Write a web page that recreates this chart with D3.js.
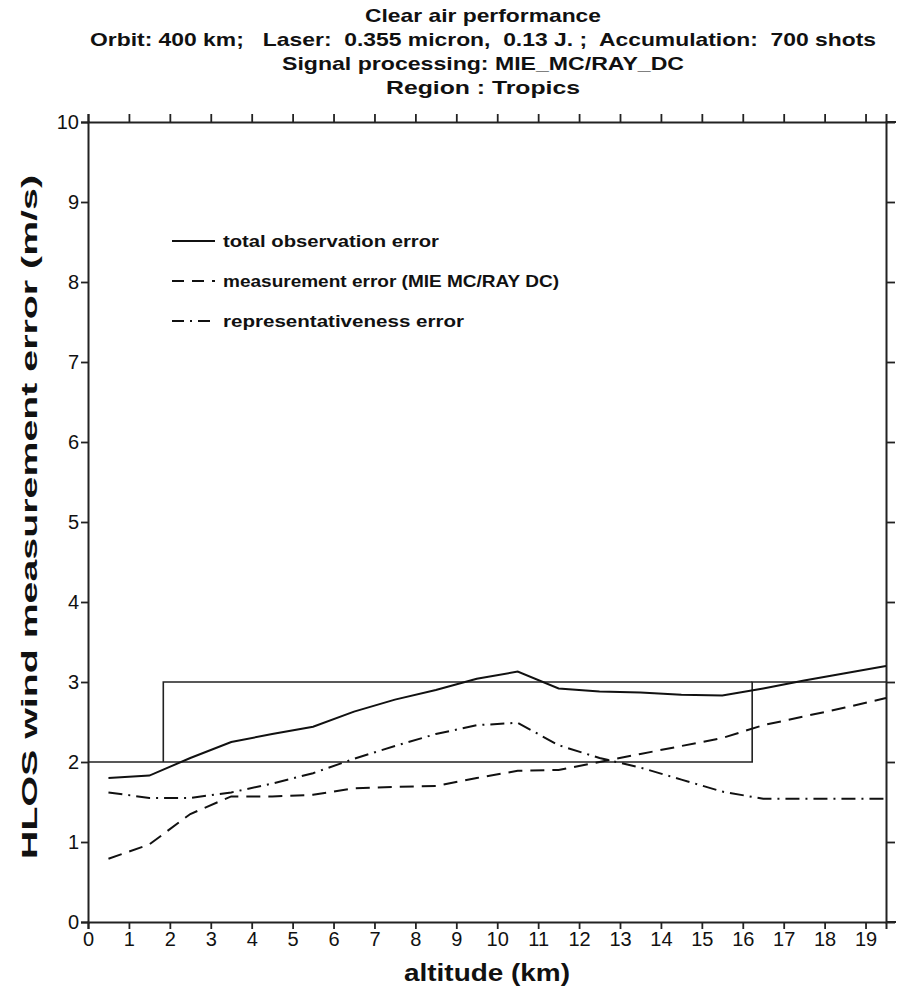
<!DOCTYPE html>
<html>
<head>
<meta charset="utf-8">
<script src="https://cdn.jsdelivr.net/npm/d3@7"></script>
<style>
  html, body { margin: 0; padding: 0; background: #fff; }
  svg { display: block; }
  text { font-family: "Liberation Sans", Arial, Helvetica, sans-serif; fill: #111; }
  .tick-label-axis text { font-size: 20px; }
</style>
</head>
<body>
<svg id="chart" width="910" height="991"></svg>
<script>
// Altitude grid (km) at which the errors are evaluated
const altitudes = [0.5, 1.5, 2.5, 3.5, 4.5, 5.5, 6.5, 7.5, 8.5, 9.5,
                   10.5, 11.5, 12.5, 13.5, 14.5, 15.5, 16.5, 17.5, 18.5, 19.5];

// HLOS wind errors (m/s)
const totalError = [1.80, 1.83, 2.05, 2.25, 2.35, 2.44, 2.63, 2.78, 2.90, 3.04,
                    3.13, 2.92, 2.88, 2.87, 2.84, 2.83, 2.92, 3.02, 3.11, 3.20];
const measurementError = [0.79, 0.97, 1.35, 1.57, 1.57, 1.59, 1.67, 1.69, 1.70, 1.80,
                          1.89, 1.90, 2.00, 2.10, 2.20, 2.30, 2.46, 2.57, 2.68, 2.80];
const representativenessError = [1.62, 1.55, 1.55, 1.62, 1.73, 1.86, 2.04, 2.20, 2.35, 2.46,
                                 2.49, 2.21, 2.05, 1.93, 1.78, 1.63, 1.54, 1.54, 1.54, 1.54];

// Requirement envelope (altitude km, error m/s)
const requirementLower = [[0, 2], [16.23, 2], [16.23, 3], [19.5, 3]];
const requirementUpper = [[1.84, 2], [1.84, 3], [16.23, 3]];

const xTicks = d3.range(0, 20);
const yTicks = d3.range(0, 11);

const titleLines = [
  "Clear air performance",
  "Orbit: 400 km;   Laser:  0.355 micron,  0.13 J. ;  Accumulation:  700 shots",
  "Signal processing: MIE_MC/RAY_DC",
  "Region : Tropics"
];

const legendItems = [
  { label: "total observation error", dash: null },
  { label: "measurement error (MIE MC/RAY DC)", dash: "12,8" },
  { label: "representativeness error", dash: "12,6,2,6" }
];

const svg = d3.select("#chart");

const x = d3.scaleLinear().domain([0, 19.5]).range([88, 886]);
const y = d3.scaleLinear().domain([0, 10]).range([922, 122]);

// Title block
const titleG = svg.append("g").attr("font-weight", "bold").attr("font-size", 18.5);
const titleWidths = [236, 786, 402, 194];
titleLines.forEach((t, i) => {
  titleG.append("text")
    .attr("x", 483).attr("y", 22 + i * 24)
    .attr("text-anchor", "middle")
    .style("white-space", "pre")
    .attr("textLength", titleWidths[i])
    .attr("lengthAdjust", "spacingAndGlyphs")
    .text(t);
});

// Axes
const axisStroke = "#222";
const bottomAxis = d3.axisBottom(x).tickValues(xTicks).tickSize(7).tickFormat(d3.format("d"));
const topAxis = d3.axisTop(x).tickValues(xTicks).tickSize(8).tickFormat("");
const leftAxis = d3.axisLeft(y).tickValues(yTicks).tickSize(7).tickFormat(d3.format("d"));
const rightAxis = d3.axisRight(y).tickValues(yTicks.slice(1, 10)).tickSize(9).tickFormat("");

function styleAxis(g) {
  g.attr("class", "tick-label-axis")
   .attr("font-size", 20)
   .attr("font-family", "Liberation Sans, Arial, sans-serif");
  g.selectAll("path.domain").attr("stroke", axisStroke).attr("stroke-width", 2);
  g.selectAll(".tick line").attr("stroke", axisStroke).attr("stroke-width", 1.8);
  g.selectAll(".tick text").attr("fill", "#111").attr("font-size", 20);
}

svg.append("g").attr("transform", `translate(0,${y(0)})`).call(bottomAxis).call(styleAxis)
  .call(g => g.selectAll(".tick text").attr("y", 10));
svg.append("g").attr("transform", `translate(0,${y(10)})`).call(topAxis).call(styleAxis);
svg.append("g").attr("transform", `translate(${x(0)},0)`).call(leftAxis).call(styleAxis)
  .call(g => g.selectAll(".tick text").attr("x", -9));
svg.append("g").attr("transform", `translate(${x(19.5)},0)`).call(rightAxis).call(styleAxis);

// Slight overhang of top and bottom frame lines past the right axis
[0, 10].forEach(v => {
  svg.append("line")
    .attr("x1", x(19.5)).attr("x2", x(19.5) + 10)
    .attr("y1", y(v)).attr("y2", y(v))
    .attr("stroke", axisStroke).attr("stroke-width", 2);
});

// Axis titles
svg.append("text")
  .attr("x", 487).attr("y", 981)
  .attr("text-anchor", "middle")
  .attr("font-weight", "bold").attr("font-size", 23)
  .attr("textLength", 166).attr("lengthAdjust", "spacingAndGlyphs")
  .text("altitude (km)");

svg.append("text")
  .attr("transform", `translate(37,517) rotate(-90)`)
  .attr("text-anchor", "middle")
  .attr("font-weight", "bold").attr("font-size", 22)
  .attr("textLength", 684).attr("lengthAdjust", "spacingAndGlyphs")
  .text("HLOS wind measurement error (m/s)");

// Requirement envelope
const envLine = d3.line().x(d => x(d[0])).y(d => y(d[1]));
[requirementLower, requirementUpper].forEach(pts => {
  svg.append("path")
    .attr("d", envLine(pts))
    .attr("fill", "none").attr("stroke", "#222").attr("stroke-width", 1.6);
});

// Error curves
const curve = d3.line().x((d, i) => x(altitudes[i])).y(d => y(d));
const series = [
  { values: totalError, dash: null },
  { values: measurementError, dash: "14,8" },
  { values: representativenessError, dash: "14,6,2,6" }
];
series.forEach(s => {
  svg.append("path")
    .attr("d", curve(s.values))
    .attr("fill", "none")
    .attr("stroke", "#111")
    .attr("stroke-width", 2)
    .attr("stroke-dasharray", s.dash);
});

// Legend
const legend = svg.append("g");
const legendWidths = [216, 336, 241];
legendItems.forEach((item, i) => {
  const yy = 241 + i * 40;
  legend.append("line")
    .attr("x1", 172).attr("x2", 215).attr("y1", yy).attr("y2", yy)
    .attr("stroke", "#111").attr("stroke-width", 2)
    .attr("stroke-dasharray", item.dash);
  legend.append("text")
    .attr("x", 223).attr("y", yy + 6)
    .attr("font-weight", "bold").attr("font-size", 16.5)
    .attr("textLength", legendWidths[i]).attr("lengthAdjust", "spacingAndGlyphs")
    .text(item.label);
});
</script>
</body>
</html>
